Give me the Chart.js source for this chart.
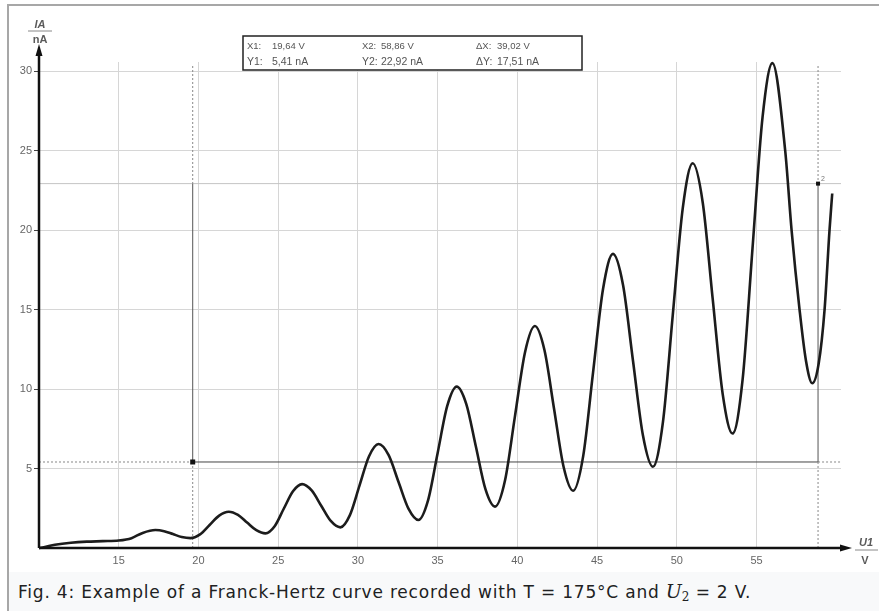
<!DOCTYPE html>
<html>
<head>
<meta charset="utf-8">
<script src="https://cdn.jsdelivr.net/npm/chart.js@4.4.1/dist/chart.umd.min.js"></script>
<style>
  html, body { margin: 0; padding: 0; background: #fff; }
  #wrap { position: relative; width: 879px; height: 615px; overflow: hidden; }
  #fig { position: absolute; left: 0; top: 0; }
  .frameTop { position: absolute; left: 7px; top: 4px; width: 872px; height: 2px; background: #a7a7a7; }
  .frameLeft { position: absolute; left: 7px; top: 4px; width: 2px; height: 607px; background: #a7a7a7; }
  #caption {
    position: absolute; left: 9px; top: 572px; width: 870px; height: 39px;
    background: #f8f9fa; font-family: "DejaVu Sans", sans-serif; font-size: 17px; letter-spacing: 0.8px;
    color: #202122; line-height: 39px; padding-left: 9px; box-sizing: border-box; white-space: nowrap;
  }
  #caption .m { font-family: "DejaVu Serif", serif; font-style: italic; font-size: 19px; letter-spacing: 0; }
  #caption sub { font-family: "DejaVu Serif", serif; font-size: 12px; vertical-align: -3px; letter-spacing: 0; }
</style>
</head>
<body>
<div id="wrap">
  <canvas id="fig" width="879" height="572"></canvas>
  <div class="frameTop"></div>
  <div class="frameLeft"></div>
  <div id="caption">Fig. 4: Example of a Franck-Hertz curve recorded with T = 175°C and <span class="m">U</span><sub>2</sub> = 2 V.</div>
</div>
<script>
"use strict"

// U1 in volts, IA in nA
const volts = [10.0, 10.3, 11.0, 12.0, 13.0, 14.0, 15.0, 15.8, 16.5, 17.3,
  17.85, 18.4, 18.95, 19.5, 20.1, 20.7, 21.3, 21.9, 22.48, 23.05, 23.63, 24.2,
  24.78, 25.35, 25.93, 26.5, 27.1, 27.7, 28.3, 28.9, 29.5, 30.1, 30.7, 31.3,
  31.93, 32.55, 33.18, 33.8, 34.4, 35.0, 35.6, 36.2, 36.8, 37.4, 38.0, 38.6,
  39.23, 39.85, 40.48, 41.1, 41.7, 42.3, 42.9, 43.5, 44.13, 44.75, 45.38, 46.0,
  46.63, 47.25, 47.88, 48.5, 49.13, 49.75, 50.38, 51.0, 51.63, 52.25, 52.88, 53.5,
  54.13, 54.75, 55.38, 56.0, 56.8, 57.2, 57.7, 58.1, 58.5, 58.9, 59.27, 59.58, 59.75];
const current = [0.0, 0.05, 0.2, 0.33, 0.4, 0.43, 0.47, 0.62, 0.95, 1.13,
  1.06, 0.875, 0.69, 0.62, 0.86, 1.45, 2.04, 2.28, 2.08, 1.60, 1.12, 0.92,
  1.37, 2.47, 3.57, 4.02, 3.62, 2.66, 1.70, 1.30, 2.07, 3.92, 5.77, 6.54,
  5.84, 4.15, 2.46, 1.76, 2.99, 5.96, 8.92, 10.15, 9.05, 6.38, 3.70, 2.60,
  4.26, 8.28, 12.30, 13.96, 12.45, 8.78, 5.11, 3.60, 5.78, 11.05, 16.32, 18.50,
  16.54, 11.81, 7.07, 5.11, 7.90, 14.66, 21.41, 24.20, 21.72, 15.70, 9.68, 7.20,
  10.60, 18.85, 27.10, 30.50, 25.0, 20.0, 15.0, 11.8, 10.36, 11.6, 15.0, 20.0, 22.3];

const xTicks = [15, 20, 25, 30, 35, 40, 45, 50, 55];
const yTicks = [5, 10, 15, 20, 25, 30];

// cursor readout
const cursorX1 = 19.64, cursorY1 = 5.41;
const cursorX2 = 58.86, cursorY2 = 22.92;
const readout = [
  ['X1:', '19,64 V', 'X2:', '58,86 V', 'ΔX:', '39,02 V'],
  ['Y1:', '5,41 nA', 'Y2:', '22,92 nA', 'ΔY:', '17,51 nA']
];

const line = (ctx, x1, y1, x2, y2, dash) => {
  ctx.setLineDash(dash || []);
  ctx.beginPath();
  ctx.moveTo(x1, y1);
  ctx.lineTo(x2, y2);
  ctx.stroke();
  ctx.setLineDash([]);
};

const cursorPlugin = {
  id: 'cursors',
  beforeDatasetsDraw(chart) {
    const ctx = chart.ctx, a = chart.chartArea;
    const xs = chart.scales.x, ys = chart.scales.y;
    const px1 = xs.getPixelForValue(cursorX1), px2 = xs.getPixelForValue(cursorX2);
    const py1 = ys.getPixelForValue(cursorY1), py2 = ys.getPixelForValue(cursorY2);
    ctx.save();
    ctx.lineWidth = 1;
    // Y2 level, faint across
    ctx.strokeStyle = '#c4c4c4';
    line(ctx, a.left, py2, a.right, py2);
    // Y1 level
    ctx.strokeStyle = '#888';
    line(ctx, a.left, py1, px1, py1, [2, 2]);
    line(ctx, px2, py1, px2 + 24, py1, [2, 2]);
    ctx.strokeStyle = '#444';
    line(ctx, px1, py1, px2, py1);
    // verticals
    [px1, px2].forEach(px => {
      ctx.strokeStyle = '#888';
      line(ctx, px, a.top + 4, px, py2, [2, 2]);
      line(ctx, px, py1, px, a.bottom, [2, 2]);
      ctx.strokeStyle = '#555';
      line(ctx, px, py2, px, py1);
    });
    ctx.fillStyle = '#111';
    ctx.fillRect(px1 - 2.5, py1 - 2.5, 5, 5);
    ctx.fillRect(px2 - 2, py2 - 2, 4, 4);
    ctx.fillStyle = '#777';
    ctx.font = '7px "Liberation Sans"';
    ctx.fillText('2', px2 + 3, py2 - 3);
    ctx.restore();
  },
  afterDraw(chart) {
    const ctx = chart.ctx, a = chart.chartArea;
    ctx.save();
    // axes with arrows
    ctx.strokeStyle = '#111';
    ctx.fillStyle = '#111';
    ctx.lineWidth = 2.5;
    line(ctx, a.left, a.bottom, a.left, 52);
    line(ctx, a.left, a.bottom, 843, a.bottom);
    ctx.beginPath();
    ctx.moveTo(a.left, 44); ctx.lineTo(a.left - 3.5, 56); ctx.lineTo(a.left + 3.5, 56); ctx.closePath(); ctx.fill();
    ctx.beginPath();
    ctx.moveTo(852, a.bottom); ctx.lineTo(840, a.bottom - 3.5); ctx.lineTo(840, a.bottom + 3.5); ctx.closePath(); ctx.fill();

    // axis titles
    ctx.fillStyle = '#5a5a5a';
    ctx.strokeStyle = '#888';
    ctx.lineWidth = 1;
    ctx.textAlign = 'center';
    ctx.font = 'italic bold 11px "Liberation Sans"';
    ctx.fillText('IA', 40, 28);
    line(ctx, 28, 31, 52, 31);
    ctx.font = 'bold 11px "Liberation Sans"';
    ctx.fillText('nA', 40, 43);
    ctx.font = 'italic bold 11px "Liberation Sans"';
    ctx.fillText('U1', 866, 546);
    line(ctx, 855, 550, 878, 550);
    ctx.font = 'bold 11px "Liberation Sans"';
    ctx.fillText('V', 865, 564);

    // readout box
    ctx.fillStyle = '#fff';
    ctx.fillRect(243, 36, 339, 34);
    ctx.strokeStyle = '#222';
    ctx.lineWidth = 1.5;
    ctx.strokeRect(243, 36, 339, 34);
    ctx.fillStyle = '#555';
    ctx.textAlign = 'left';
    const cols = [247, 272, 362, 381, 476, 497];
    readout.forEach((row, r) => {
      ctx.font = (r === 0 ? 9.5 : 10.5) + 'px "Liberation Sans"';
      row.forEach((t, c) => ctx.fillText(t, cols[c], 49 + r * 16));
    });
    ctx.restore();
  }
};

new Chart(document.getElementById('fig'), {
  type: 'line',
  data: {
    datasets: [{
      data: volts.map((v, i) => ({ x: v, y: current[i] })),
      borderColor: '#1c1c1c',
      borderWidth: 2.6,
      pointRadius: 0,
      fill: false,
      clip: false,
      cubicInterpolationMode: 'monotone'
    }]
  },
  options: {
    responsive: false,
    animation: false,
    devicePixelRatio: 1,
    layout: { padding: { top: 62, right: 38, left: 0, bottom: 0 } },
    plugins: { legend: { display: false }, tooltip: { enabled: false } },
    scales: {
      x: {
        type: 'linear',
        min: 10,
        max: 60.3,
        afterBuildTicks: s => { s.ticks = xTicks.map(v => ({ value: v })); },
        afterFit: s => { s.height = 24; },
        border: { display: false },
        grid: { color: '#d6d6d6', lineWidth: 1, tickLength: 4, tickColor: 'rgba(0,0,0,0)' },
        ticks: { color: '#666', font: { family: 'Liberation Sans', size: 11 }, padding: 2, maxRotation: 0 }
      },
      y: {
        min: 0,
        max: 30.57,
        afterBuildTicks: s => { s.ticks = yTicks.map(v => ({ value: v })); },
        afterFit: s => { s.width = 39; },
        border: { display: false },
        grid: { color: '#d6d6d6', lineWidth: 1, tickLength: 5, tickColor: '#444' },
        ticks: { color: '#666', font: { family: 'Liberation Sans', size: 11 }, padding: 2 }
      }
    }
  },
  plugins: [cursorPlugin]
});
</script>
</body>
</html>
